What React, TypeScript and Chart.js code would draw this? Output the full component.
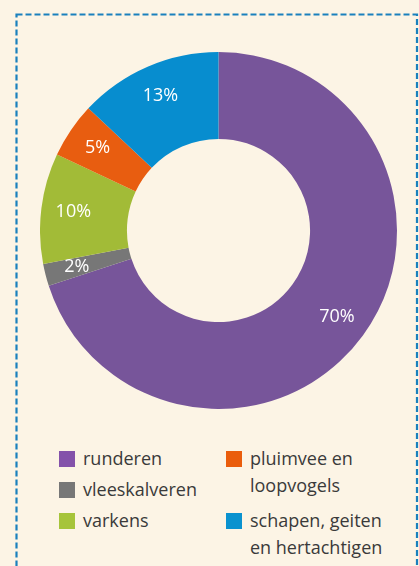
import React, { useEffect, useRef } from "react";
import { Chart, registerables } from "chart.js";

Chart.register(...registerables);

const categories = ["runderen", "vleeskalveren", "varkens", "pluimvee en loopvogels", "schapen, geiten en hertachtigen"];
const values = [70, 2, 10, 5, 13];
const colors = ["#77559a", "#777777", "#a2bb37", "#e85d10", "#078dcf"];
const legendColors = ["#8452aa", "#777777", "#a6c43a", "#ea5d0c", "#0a92cf"];
const legendCol1 = [
  { idx: 0, lines: ["runderen"] },
  { idx: 1, lines: ["vleeskalveren"] },
  { idx: 2, lines: ["varkens"] },
];
const legendCol2 = [
  { idx: 3, lines: ["pluimvee en", "loopvogels"] },
  { idx: 4, lines: ["schapen, geiten", "en hertachtigen"] },
];

const BG = "#fcf4e5";
const FONT = "'Open Sans', 'Noto Sans', sans-serif";

const labelPlugin = {
  id: "sliceLabels",
  afterDatasetsDraw(chart: any) {
    const ctx = chart.ctx;
    const meta = chart.getDatasetMeta(0);
    ctx.save();
    ctx.fillStyle = "#ffffff";
    ctx.font = `18px ${FONT}`;
    ctx.textAlign = "center";
    ctx.textBaseline = "middle";
    meta.data.forEach((arc: any, i: number) => {
      const { x, y, startAngle, endAngle, innerRadius, outerRadius } = arc.getProps(
        ["x", "y", "startAngle", "endAngle", "innerRadius", "outerRadius"],
        true
      );
      const mid = (startAngle + endAngle) / 2;
      const r = innerRadius + 0.63 * (outerRadius - innerRadius);
      ctx.fillText(values[i] + "%", x + Math.cos(mid) * r, y + Math.sin(mid) * r);
    });
    ctx.restore();
  },
};

function LegendItem({ idx, lines, left, top }: { idx: number; lines: string[]; left: number; top: number }) {
  return (
    <div style={{ position: "absolute", left, top, display: "flex", alignItems: "flex-start" }}>
      <div style={{ width: 16, height: 16, background: legendColors[idx], marginTop: 5.5, flex: "0 0 16px" }} />
      <div style={{ marginLeft: 8, fontFamily: FONT, fontSize: 18, lineHeight: "27px", color: "#3a3a3a", whiteSpace: "nowrap" }}>
        {lines.map((l, k) => (
          <div key={k}>{l}</div>
        ))}
      </div>
    </div>
  );
}

export default function App() {
  const ref = useRef<HTMLCanvasElement>(null);
  useEffect(() => {
    if (!ref.current) return;
    const chart = new Chart(ref.current, {
      type: "doughnut",
      data: {
        labels: categories,
        datasets: [
          {
            data: values,
            backgroundColor: colors,
            borderWidth: 0,
          },
        ],
      },
      options: {
        animation: false,
        responsive: false,
        cutout: "51.3%",
        layout: { padding: 0 },
        plugins: { legend: { display: false }, tooltip: { enabled: false } },
      },
      plugins: [labelPlugin],
    });
    return () => chart.destroy();
  }, []);

  const col1Tops = [445, 476, 507];
  const col2Tops = [445, 507];

  return (
    <div style={{ position: "fixed", left: 0, top: 0, width: 419, height: 566, background: BG, overflow: "hidden" }}>
      <svg width={419} height={566} style={{ position: "absolute", left: 0, top: 0 }}>
        <rect x={16.5} y={14.5} width={400.5} height={600} fill="none" stroke="#1a80bd" strokeWidth={2.2} strokeDasharray="6 3" />
      </svg>
      <canvas ref={ref} width={357} height={357} style={{ position: "absolute", left: 40, top: 52, width: 357, height: 357 }} />
      {legendCol1.map((it, k) => (
        <LegendItem key={"a" + k} idx={it.idx} lines={it.lines} left={59} top={col1Tops[k]} />
      ))}
      {legendCol2.map((it, k) => (
        <LegendItem key={"b" + k} idx={it.idx} lines={it.lines} left={226} top={col2Tops[k]} />
      ))}
    </div>
  );
}
